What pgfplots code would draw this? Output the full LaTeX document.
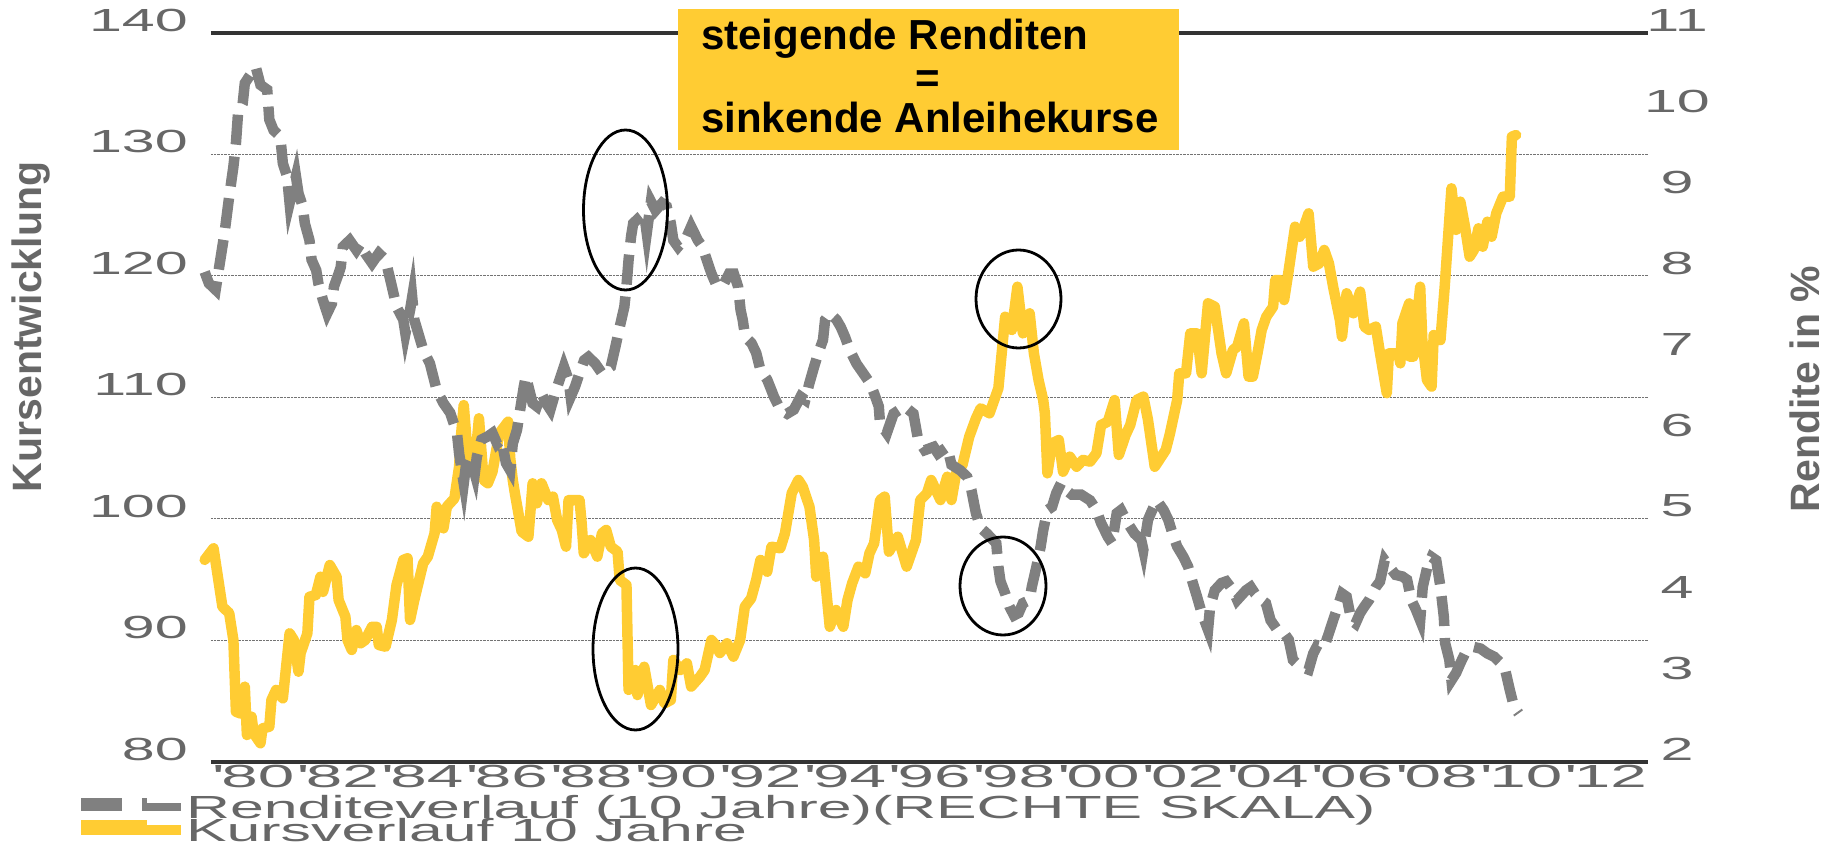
\documentclass[border=0pt]{standalone}
\usepackage{fontspec}
\setmainfont{Liberation Sans}
\newfontfamily\wideA[FakeStretch=1.85]{Liberation Sans}
\newfontfamily\wideX[FakeStretch=2.05]{Liberation Sans}
\newfontfamily\wideL[FakeStretch=1.9]{Liberation Sans}
\usepackage{pgfplots}
\usepackage{pgfplotstable}
\pgfplotsset{compat=1.18}
\definecolor{gold}{HTML}{FFCC33}
\definecolor{yieldgray}{HTML}{808080}
\definecolor{labgray}{HTML}{676767}

\pgfplotstableread{
x y
1979.85 96.63
1980.06 97.59
1980.27 92.78
1980.43 92.26
1980.53 90.04
1980.59 84.14
1980.69 84.00
1980.80 86.20
1980.85 82.22
1980.96 83.73
1981.01 82.36
1981.17 81.54
1981.22 82.77
1981.38 82.90
1981.43 85.10
1981.54 85.93
1981.70 85.24
1981.86 90.59
1981.96 90.04
1982.07 87.43
1982.12 88.95
1982.28 90.59
1982.33 93.60
1982.48 93.74
1982.59 95.25
1982.65 94.00
1982.81 96.21
1982.97 95.25
1983.02 93.33
1983.18 91.96
1983.23 90.04
1983.33 89.22
1983.44 90.86
1983.54 89.77
1983.65 90.04
1983.81 91.13
1983.92 91.13
1983.97 89.63
1984.13 89.49
1984.28 91.69
1984.39 94.57
1984.55 96.63
1984.65 96.77
1984.71 91.69
1984.81 93.33
1985.02 96.35
1985.13 96.90
1985.29 98.82
1985.34 101.01
1985.50 99.23
1985.58 101.01
1985.76 101.70
1985.87 104.30
1985.92 107.05
1985.98 109.38
1986.08 105.00
1986.24 104.44
1986.34 108.29
1986.45 103.21
1986.55 102.94
1986.66 103.89
1986.82 107.05
1987.03 108.01
1987.08 105.00
1987.14 103.21
1987.19 102.12
1987.35 98.96
1987.51 98.54
1987.61 102.94
1987.71 101.29
1987.82 102.94
1987.98 101.56
1988.09 101.84
1988.19 99.92
1988.30 99.10
1988.40 97.72
1988.46 101.56
1988.72 101.56
1988.77 99.65
1988.82 97.18
1988.98 98.27
1989.14 96.90
1989.25 98.82
1989.35 99.10
1989.46 97.72
1989.62 97.31
1989.67 94.98
1989.83 94.57
1989.88 85.93
1990.04 87.57
1990.09 85.51
1990.25 87.84
1990.41 84.69
1990.62 85.93
1990.73 84.83
1990.88 85.10
1990.94 88.40
1991.10 87.57
1991.26 88.12
1991.36 86.20
1991.57 87.02
1991.68 87.57
1991.84 90.04
1991.94 89.63
1992.04 88.97
1992.21 89.77
1992.36 88.67
1992.52 90.04
1992.63 92.78
1992.78 93.47
1992.90 94.98
1993.00 96.63
1993.16 95.66
1993.26 97.72
1993.47 97.59
1993.58 98.82
1993.74 102.12
1993.90 103.21
1994.00 102.66
1994.16 101.01
1994.27 98.27
1994.32 95.25
1994.48 96.90
1994.64 91.13
1994.79 92.51
1994.96 91.13
1995.06 93.33
1995.17 94.71
1995.32 96.08
1995.48 95.53
1995.58 97.18
1995.69 98.00
1995.83 101.56
1995.94 101.84
1996.04 97.31
1996.25 98.54
1996.46 96.08
1996.68 98.27
1996.78 101.56
1996.94 102.12
1997.04 103.21
1997.26 101.56
1997.42 103.48
1997.52 101.56
1997.63 103.76
1997.78 104.44
1997.94 106.77
1998.10 108.29
1998.21 109.11
1998.42 108.70
1998.63 110.76
1998.79 116.65
1998.95 115.56
1999.08 119.12
1999.21 115.28
1999.37 116.93
1999.47 113.64
1999.58 111.44
1999.69 109.79
1999.73 108.70
1999.79 103.76
1999.90 106.23
2000.06 106.50
2000.16 103.89
2000.32 105.13
2000.48 104.30
2000.63 104.86
2000.80 104.72
2000.95 105.41
2001.06 107.74
2001.22 108.01
2001.38 109.79
2001.48 105.27
2001.64 106.91
2001.75 107.74
2001.90 109.79
2002.06 110.07
2002.17 108.15
2002.33 104.30
2002.59 105.68
2002.69 107.05
2002.86 109.79
2002.91 111.99
2003.07 111.99
2003.17 115.28
2003.33 115.28
2003.44 111.99
2003.59 117.75
2003.75 117.47
2003.91 113.64
2004.02 111.99
2004.18 113.91
2004.28 114.18
2004.44 116.11
2004.55 111.71
2004.65 111.71
2004.76 113.64
2004.86 115.56
2004.97 116.65
2005.13 117.47
2005.18 119.67
2005.29 119.67
2005.39 118.02
2005.50 120.49
2005.65 124.06
2005.76 123.23
2005.86 124.06
2005.97 125.16
2006.08 120.77
2006.23 121.05
2006.34 122.14
2006.45 121.05
2006.55 119.12
2006.71 116.38
2006.76 115.00
2006.87 118.58
2007.03 116.93
2007.19 118.71
2007.29 115.83
2007.40 115.56
2007.56 115.83
2007.66 113.64
2007.82 110.35
2007.87 113.64
2008.09 113.64
2008.14 112.81
2008.19 116.11
2008.35 117.75
2008.36 113.36
2008.45 113.36
2008.61 119.12
2008.66 114.73
2008.77 111.44
2008.88 110.89
2008.93 115.14
2009.09 114.73
2009.19 119.12
2009.35 127.22
2009.46 123.79
2009.56 126.12
2009.67 124.06
2009.78 121.59
2009.88 122.14
2009.99 123.93
2010.09 122.41
2010.20 124.47
2010.30 123.23
2010.41 125.16
2010.57 126.53
2010.73 126.53
2010.78 131.47
2010.88 131.60
}\kurs

\pgfplotstableread{
x y
1979.85 8.05
1979.95 7.91
1980.11 7.83
1980.22 8.20
1980.32 8.53
1980.43 8.98
1980.53 9.35
1980.59 9.64
1980.64 10.01
1980.75 10.13
1980.80 10.38
1980.90 10.46
1981.06 10.58
1981.17 10.36
1981.33 10.30
1981.38 9.93
1981.48 9.80
1981.64 9.72
1981.70 9.39
1981.80 9.23
1981.86 8.90
1982.01 9.23
1982.07 9.02
1982.17 8.86
1982.22 8.65
1982.33 8.44
1982.38 8.20
1982.49 8.07
1982.54 7.91
1982.65 7.70
1982.75 7.54
1982.86 7.66
1982.91 7.87
1983.02 8.03
1983.07 8.11
1983.12 8.36
1983.28 8.44
1983.44 8.32
1983.54 8.40
1983.65 8.28
1983.81 8.16
1983.97 8.28
1984.13 8.20
1984.28 7.87
1984.39 7.62
1984.55 7.46
1984.60 7.29
1984.71 7.58
1984.76 7.74
1984.81 7.46
1985.02 7.09
1985.18 6.92
1985.34 6.59
1985.50 6.43
1985.66 6.31
1985.82 6.06
1985.87 5.81
1985.98 5.44
1986.03 5.65
1986.13 5.77
1986.24 5.56
1986.29 5.77
1986.40 5.98
1986.55 6.02
1986.66 6.06
1986.77 5.93
1986.87 5.98
1986.98 5.69
1987.08 5.60
1987.14 5.93
1987.24 6.10
1987.30 6.30
1987.40 6.63
1987.45 6.76
1987.61 6.43
1987.71 6.39
1987.82 6.55
1987.93 6.43
1988.03 6.35
1988.14 6.55
1988.30 6.80
1988.35 6.88
1988.46 6.72
1988.51 6.51
1988.61 6.63
1988.72 6.80
1988.83 6.96
1988.93 7.00
1989.09 6.92
1989.25 6.80
1989.35 6.84
1989.46 6.88
1989.57 7.13
1989.67 7.37
1989.78 7.62
1989.83 7.87
1989.88 8.20
1989.94 8.49
1989.99 8.65
1990.15 8.73
1990.25 8.77
1990.31 8.53
1990.41 8.92
1990.52 8.81
1990.67 8.90
1990.78 8.86
1990.88 8.65
1990.94 8.44
1991.05 8.36
1991.26 8.49
1991.36 8.61
1991.52 8.44
1991.63 8.36
1991.73 8.20
1991.84 8.03
1991.94 7.91
1992.10 7.87
1992.26 8.03
1992.37 8.03
1992.47 7.87
1992.53 7.58
1992.58 7.46
1992.64 7.25
1992.79 7.17
1992.90 7.05
1993.00 6.84
1993.16 6.72
1993.32 6.51
1993.47 6.35
1993.63 6.30
1993.79 6.35
1993.95 6.51
1994.06 6.47
1994.16 6.68
1994.27 6.88
1994.37 7.05
1994.48 7.21
1994.53 7.46
1994.64 7.54
1994.80 7.46
1994.90 7.37
1995.00 7.25
1995.11 7.09
1995.27 6.92
1995.43 6.80
1995.59 6.68
1995.69 6.55
1995.80 6.39
1995.83 6.18
1995.99 6.06
1996.15 6.30
1996.41 6.39
1996.62 6.30
1996.73 5.98
1996.89 5.85
1997.10 5.89
1997.20 5.81
1997.42 5.89
1997.52 5.67
1997.73 5.60
1997.89 5.52
1997.99 5.36
1998.10 5.07
1998.21 4.89
1998.36 4.82
1998.58 4.70
1998.63 4.41
1998.68 4.23
1998.79 4.08
1998.89 3.92
1999.00 3.81
1999.11 3.84
1999.21 3.96
1999.37 4.00
1999.42 4.16
1999.53 4.41
1999.63 4.66
1999.69 4.86
1999.79 5.11
1999.90 5.15
2000.00 5.32
2000.11 5.44
2000.22 5.36
2000.37 5.30
2000.59 5.30
2000.80 5.23
2000.95 5.11
2001.06 4.95
2001.22 4.78
2001.32 4.70
2001.43 5.07
2001.53 5.11
2001.69 4.95
2001.85 4.82
2002.01 4.74
2002.06 4.62
2002.17 4.99
2002.27 5.11
2002.38 5.23
2002.54 5.11
2002.65 4.99
2002.75 4.82
2002.86 4.66
2003.01 4.53
2003.12 4.41
2003.23 4.21
2003.33 4.04
2003.44 3.84
2003.59 3.63
2003.64 3.92
2003.75 4.12
2003.91 4.21
2004.02 4.23
2004.18 4.12
2004.28 4.00
2004.49 4.12
2004.60 4.16
2004.70 4.08
2004.86 4.00
2004.96 3.96
2005.07 3.75
2005.23 3.63
2005.39 3.59
2005.50 3.51
2005.60 3.26
2005.76 3.18
2005.97 3.14
2006.08 3.34
2006.18 3.44
2006.34 3.42
2006.45 3.59
2006.55 3.75
2006.66 3.92
2006.76 4.08
2006.87 4.04
2006.98 3.75
2007.08 3.71
2007.19 3.84
2007.29 3.92
2007.40 4.00
2007.56 4.16
2007.66 4.23
2007.77 4.49
2007.88 4.41
2008.03 4.31
2008.19 4.29
2008.30 4.25
2008.40 4.00
2008.51 3.88
2008.61 3.75
2008.67 4.16
2008.78 4.41
2008.88 4.53
2008.99 4.49
2009.09 4.16
2009.17 3.79
2009.20 3.47
2009.30 3.26
2009.35 3.01
2009.46 3.10
2009.56 3.22
2009.67 3.34
2009.88 3.42
2010.04 3.40
2010.20 3.34
2010.36 3.30
2010.52 3.22
2010.62 3.14
2010.73 2.89
2010.83 2.68
2010.94 2.60
}\rendite

\begin{document}
\begin{tikzpicture}
\useasboundingbox (-211pt,-84pt) rectangle (1628pt,762pt);

\begin{axis}[
  at={(0pt,0pt)}, anchor=south west,
  scale only axis, width=1437pt, height=729pt,
  xmin=1980, xmax=2014, ymin=80, ymax=140,
  clip=false,
  axis line style={draw=none},
  tick style={draw=none},
  xtick={1981,1983,...,2013},
  xticklabels={\textquotesingle\kern3pt 80,\textquotesingle\kern3pt 82,\textquotesingle\kern3pt 84,\textquotesingle\kern3pt 86,\textquotesingle\kern3pt 88,\textquotesingle\kern3pt 90,\textquotesingle\kern3pt 92,\textquotesingle\kern3pt 94,\textquotesingle\kern3pt 96,\textquotesingle\kern3pt 98,\textquotesingle\kern3pt 00,\textquotesingle\kern3pt 02,\textquotesingle\kern3pt 04,\textquotesingle\kern3pt 06,\textquotesingle\kern3pt 08,\textquotesingle\kern3pt 10,\textquotesingle\kern3pt 12},
  ytick={90,100,...,130},
  ymajorgrids,
  grid style={densely dotted, line width=1pt, draw=black!55},
  extra y ticks={80,140},
  extra y tick labels={80,140},
  extra y tick style={major grid style={solid, line width=3.5pt, draw=black!80}},
  /pgf/number format/assume math mode=true,
  yticklabel style={font=\wideA\fontsize{32}{32}\selectfont, text=labgray, anchor=east, inner sep=0pt, xshift=-23pt, yshift=13pt},
  xticklabel style={font=\wideX\fontsize{32}{32}\selectfont, text=labgray, anchor=north, inner sep=0pt, yshift=-3pt},
]
\addplot[gold, line width=10.5pt, line join=round, line cap=round] table[x=x,y=y] {\kurs};
\end{axis}

\begin{axis}[
  at={(0pt,0pt)}, anchor=south west,
  scale only axis, width=1437pt, height=729pt,
  xmin=1980, xmax=2014, ymin=2, ymax=11,
  clip=false,
  axis line style={draw=none},
  tick style={draw=none},
  xtick=\empty,
  ytick={2,3,...,11},
  yticklabel pos=right,
  /pgf/number format/assume math mode=true,
  yticklabel style={font=\wideA\fontsize{32}{32}\selectfont, text=labgray, anchor=center, inner sep=0pt, xshift=29pt, yshift=13pt},
  legend style={at={(axis description cs:-0.094,-0.0453)}, anchor=north west, draw=none, fill=none, inner sep=0pt,
    font=\wideL\fontsize{32}{32}\selectfont, text=labgray,
    nodes={inner sep=0pt, text height=23pt, text depth=0pt},
    row sep=0pt, column sep=0pt},
  legend cell align=left,
  legend image code/.code={\draw[#1] (0pt,5pt) -- (66pt,5pt); \path (0pt,0pt) -- (100pt,0pt);},
]
\addplot[yieldgray, line width=10.5pt, dash pattern=on 30pt off 12pt, forget plot] table[x=x,y=y] {\rendite};
\addlegendimage{yieldgray, line width=8pt, dash pattern=on 41pt off 20pt}
\addlegendentry{Renditeverlauf (10 Jahre)(RECHTE SKALA)}
\addlegendimage{gold, line width=10pt}
\addlegendentry{Kursverlauf 10 Jahre}
\end{axis}

% title box
\fill[gold] (467pt,612pt) rectangle (968pt,753pt);
\node[anchor=base west, inner sep=0pt, font=\bfseries\fontsize{42}{42}\selectfont] at (490pt,712pt) {steigende Renditen};
\node[anchor=center, inner sep=0pt, font=\bfseries\fontsize{42}{42}\selectfont] at (717pt,680pt) {=};
\node[anchor=base west, inner sep=0pt, font=\bfseries\fontsize{42}{42}\selectfont] at (490pt,629pt) {sinkende Anleihekurse};

% ellipses
\draw[black, line width=2.8pt] (414.5pt,552pt) ellipse [x radius=42pt, y radius=80pt];
\draw[black, line width=2.8pt] (424.5pt,113pt) ellipse [x radius=42.5pt, y radius=81pt];
\draw[black, line width=2.8pt] (807.5pt,463pt) ellipse [x radius=42.5pt, y radius=49pt];
\draw[black, line width=2.8pt] (792pt,176pt) ellipse [x radius=43pt, y radius=49pt];

% axis titles
\node[rotate=90, inner sep=0pt, text=labgray, font=\bfseries\fontsize{41}{41}\selectfont] at (-180.5pt,435pt) {Kursentwicklung};
\node[rotate=90, inner sep=0pt, text=labgray, font=\bfseries\fontsize{41}{41}\selectfont] at (1594pt,373pt) {Rendite in \%};
\end{tikzpicture}
\end{document}
